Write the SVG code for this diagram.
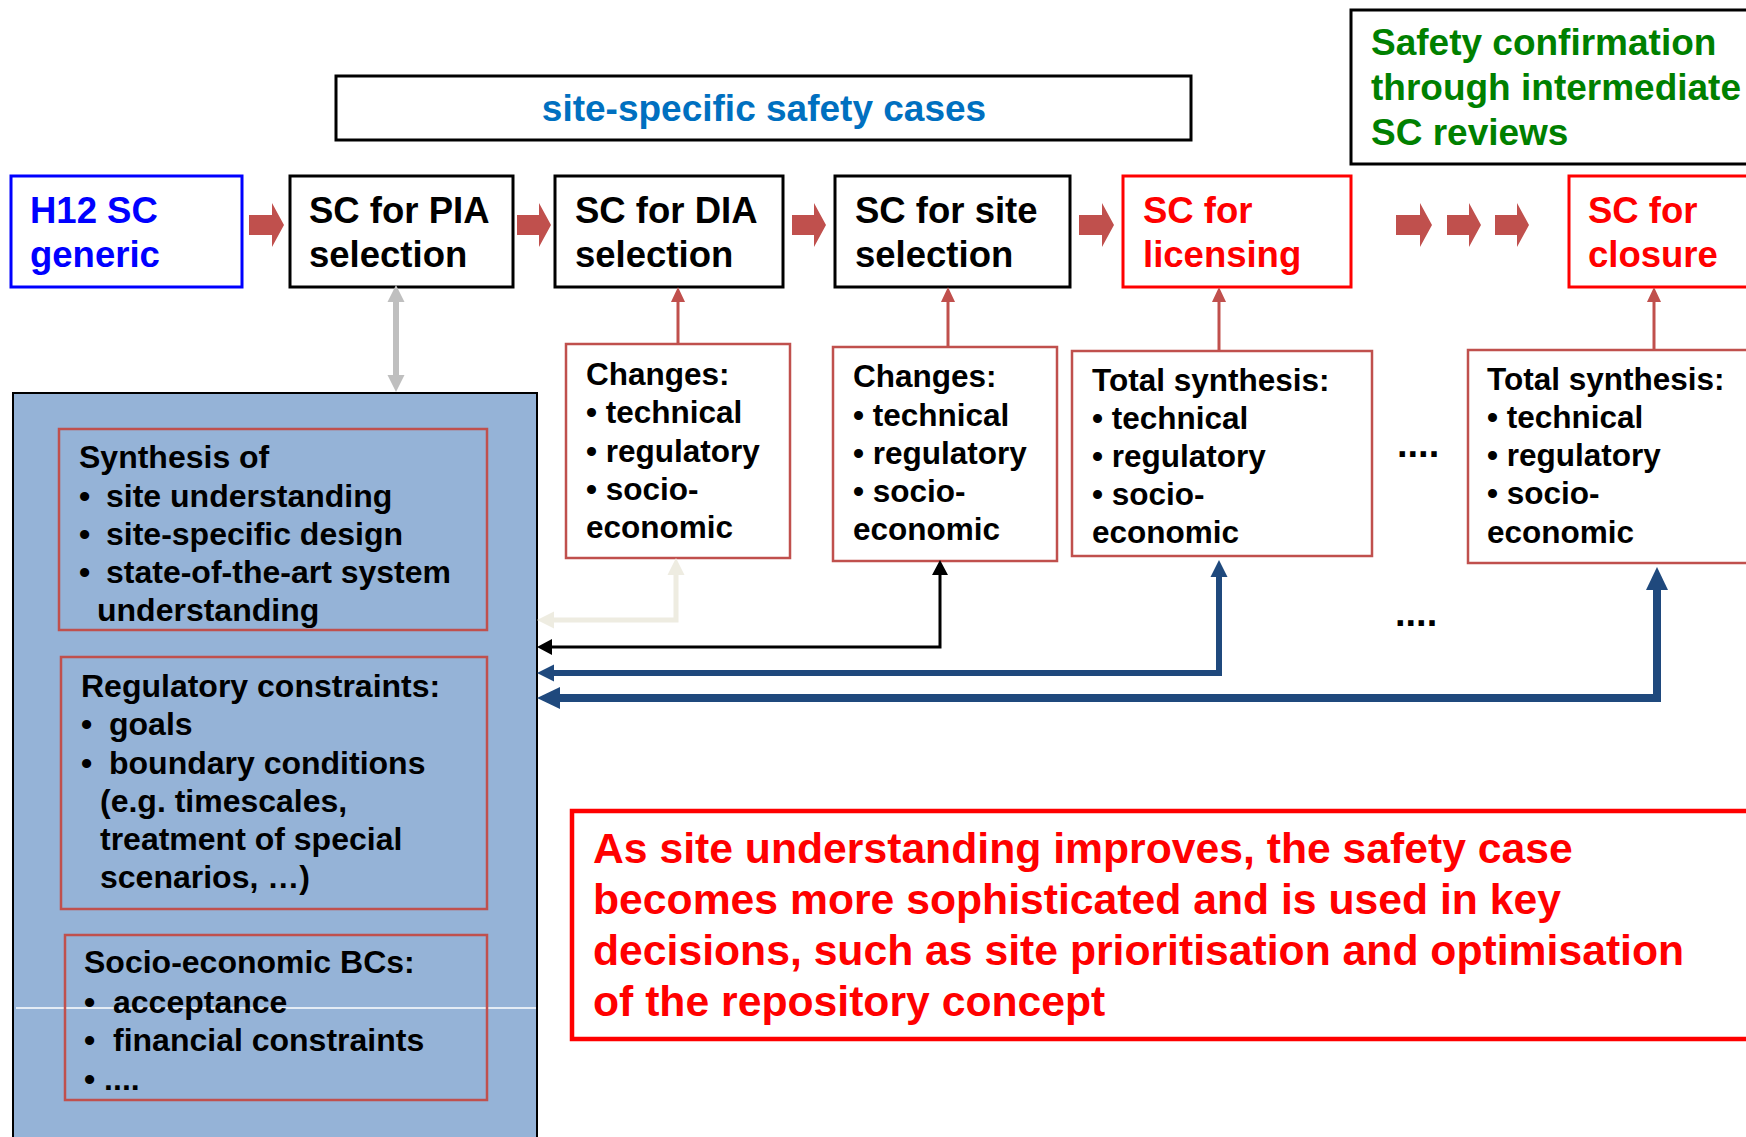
<svg xmlns="http://www.w3.org/2000/svg" width="1746" height="1137" viewBox="0 0 1746 1137">
<style>
text{font-family:"Liberation Sans",Arial,sans-serif;font-weight:bold;}
.t36{font-size:36.5px;}
.t32{font-size:32px;fill:#000;}
.t31{font-size:31.5px;fill:#000;}
.st{font-size:42.7px;fill:#FF0000;}
.bx{fill:#fff;stroke:#000;stroke-width:3;}
.rb{fill:#fff;stroke:#FF0000;stroke-width:3;}
.cb{fill:#fff;stroke:#C0504D;stroke-width:2.5;}
.ib{fill:none;stroke:#C0504D;stroke-width:2.5;}
.blk{fill:#C0504D;}
</style>
<defs>
<marker id="mRed" markerUnits="userSpaceOnUse" orient="auto-start-reverse" refX="0" refY="7" markerWidth="16" markerHeight="14" overflow="visible"><path d="M0,0 L15,7 L0,14 z" fill="#C0504D"/></marker>
<marker id="mGray" markerUnits="userSpaceOnUse" orient="auto-start-reverse" refX="0" refY="8.5" markerWidth="17" markerHeight="17" overflow="visible"><path d="M0,0 L17,8.5 L0,17 z" fill="#BFBFBF"/></marker>
<marker id="mBeige" markerUnits="userSpaceOnUse" orient="auto-start-reverse" refX="0" refY="8.5" markerWidth="17" markerHeight="17" overflow="visible"><path d="M0,0 L17,8.5 L0,17 z" fill="#EEECE1"/></marker>
<marker id="mBlack" markerUnits="userSpaceOnUse" orient="auto-start-reverse" refX="0" refY="8" markerWidth="15" markerHeight="16" overflow="visible"><path d="M0,0 L15,8 L0,16 z" fill="#000"/></marker>
<marker id="mBlue1" markerUnits="userSpaceOnUse" orient="auto-start-reverse" refX="0" refY="8.5" markerWidth="17" markerHeight="17" overflow="visible"><path d="M0,0 L17,8.5 L0,17 z" fill="#1F497D"/></marker>
<marker id="mBlue2" markerUnits="userSpaceOnUse" orient="auto-start-reverse" refX="0" refY="11" markerWidth="23" markerHeight="22" overflow="visible"><path d="M0,0 L23,11 L0,22 z" fill="#1F497D"/></marker>
</defs>
<rect width="1746" height="1137" fill="#fff"/>

<g id="site-specific-label">
<rect class="bx" x="336" y="76" width="855" height="64"/>
<text x="764" y="121" fill="#0070C0" text-anchor="middle" style="font-size:37px">site-specific safety cases</text>
</g>

<g id="safety-confirmation">
<rect class="bx" x="1351" y="10" width="450" height="154"/>
<text x="1371" y="55" fill="#008000" style="font-size:37px">Safety confirmation</text>
<text x="1371" y="100" fill="#008000" style="font-size:37px">through intermediate</text>
<text x="1371" y="145" fill="#008000" style="font-size:37px">SC reviews</text>
</g>

<g id="h12">
<rect x="11" y="176" width="231" height="111" fill="#fff" stroke="#0000FF" stroke-width="3"/>
<text class="t36" x="30" y="223" fill="#0000FF">H12 SC</text>
<text class="t36" x="30" y="267" fill="#0000FF">generic</text>
</g>
<g id="sc-pia">
<rect class="bx" x="290" y="176" width="223" height="111"/>
<text class="t36" x="309" y="223">SC for PIA</text>
<text class="t36" x="309" y="267">selection</text>
</g>
<g id="sc-dia">
<rect class="bx" x="555" y="176" width="228" height="111"/>
<text class="t36" x="575" y="223">SC for DIA</text>
<text class="t36" x="575" y="267">selection</text>
</g>
<g id="sc-site">
<rect class="bx" x="835" y="176" width="235" height="111"/>
<text class="t36" x="855" y="223">SC for site</text>
<text class="t36" x="855" y="267">selection</text>
</g>
<g id="sc-licensing">
<rect class="rb" x="1123" y="176" width="228" height="111"/>
<text class="t36" x="1143" y="223" fill="#FF0000">SC for</text>
<text class="t36" x="1143" y="267" fill="#FF0000">licensing</text>
</g>
<g id="sc-closure">
<rect class="rb" x="1569" y="176" width="300" height="111"/>
<text class="t36" x="1588" y="223" fill="#FF0000">SC for</text>
<text class="t36" x="1588" y="267" fill="#FF0000">closure</text>
</g>

<g id="changes-dia">
<rect class="cb" x="566" y="344" width="224" height="214"/>
<text class="t31" x="586" y="385">Changes:</text>
<text class="t31" x="586" y="423">• technical</text>
<text class="t31" x="586" y="462">• regulatory</text>
<text class="t31" x="586" y="500">• socio-</text>
<text class="t31" x="586" y="538">economic</text>
</g>
<g id="changes-site">
<rect class="cb" x="833" y="347" width="224" height="214"/>
<text class="t31" x="853" y="387">Changes:</text>
<text class="t31" x="853" y="426">• technical</text>
<text class="t31" x="853" y="464">• regulatory</text>
<text class="t31" x="853" y="502">• socio-</text>
<text class="t31" x="853" y="540">economic</text>
</g>
<g id="total-licensing">
<rect class="cb" x="1072" y="351" width="300" height="205"/>
<text class="t31" x="1092" y="391">Total synthesis:</text>
<text class="t31" x="1092" y="429">• technical</text>
<text class="t31" x="1092" y="467">• regulatory</text>
<text class="t31" x="1092" y="505">• socio-</text>
<text class="t31" x="1092" y="543">economic</text>
</g>
<g id="total-closure">
<rect class="cb" x="1468" y="350" width="400" height="213"/>
<text class="t31" x="1487" y="390">Total synthesis:</text>
<text class="t31" x="1487" y="428">• technical</text>
<text class="t31" x="1487" y="466">• regulatory</text>
<text class="t31" x="1487" y="504">• socio-</text>
<text class="t31" x="1487" y="543">economic</text>
</g>

<g id="dots">
<text x="1397" y="457" style="font-size:38px">....</text>
<text x="1395" y="626" style="font-size:38px">....</text>
</g>

<g id="basis">
<rect x="13" y="393" width="524" height="780" fill="#95B3D7" stroke="#000" stroke-width="2"/>
<line x1="16" y1="1008" x2="536" y2="1008" stroke="#fff" stroke-width="1.5"/>
<g id="synthesis">
<rect class="ib" x="59" y="429" width="428" height="201"/>
<text class="t32" x="79" y="468">Synthesis of</text>
<text class="t32" y="507"><tspan x="79">•</tspan><tspan x="106">site understanding</tspan></text>
<text class="t32" y="545"><tspan x="79">•</tspan><tspan x="106">site-specific design</tspan></text>
<text class="t32" y="583"><tspan x="79">•</tspan><tspan x="106">state-of-the-art system</tspan></text>
<text class="t32" x="97" y="621">understanding</text>
</g>
<g id="regulatory">
<rect class="ib" x="61" y="657" width="426" height="252"/>
<text class="t32" x="81" y="697">Regulatory constraints:</text>
<text class="t32" y="735"><tspan x="81">•</tspan><tspan x="109">goals</tspan></text>
<text class="t32" y="774"><tspan x="81">•</tspan><tspan x="109">boundary conditions</tspan></text>
<text class="t32" x="100" y="812">(e.g. timescales,</text>
<text class="t32" x="100" y="850">treatment of special</text>
<text class="t32" x="100" y="888">scenarios, …)</text>
</g>
<g id="socio">
<rect class="ib" x="65" y="935" width="422" height="165"/>
<text class="t32" x="84" y="973">Socio-economic BCs:</text>
<text class="t32" y="1013"><tspan x="84">•</tspan><tspan x="113">acceptance</tspan></text>
<text class="t32" y="1051"><tspan x="84">•</tspan><tspan x="113">financial constraints</tspan></text>
<text class="t32" x="84" y="1090">• ....</text>
</g>
</g>

<g id="statement">
<rect x="572" y="811" width="1300" height="228" fill="#fff" stroke="#FF0000" stroke-width="4.5"/>
<text class="st" x="593" y="863">As site understanding improves, the safety case</text>
<text class="st" x="593" y="914">becomes more sophisticated and is used in key</text>
<text class="st" x="593" y="965">decisions, such as site prioritisation and optimisation</text>
<text class="st" x="593" y="1016">of the repository concept</text>
</g>

<g id="connectors">
<polygon class="blk" points="249,215 272,215 272,203 284,225 272,247 272,235 249,235"/>
<polygon class="blk" points="517,215 539,215 539,203 551,225 539,247 539,235 517,235"/>
<polygon class="blk" points="792,215 814,215 814,203 826,225 814,247 814,235 792,235"/>
<polygon class="blk" points="1079,215 1102,215 1102,203 1114,225 1102,247 1102,235 1079,235"/>
<polygon class="blk" points="1396,215 1420,215 1420,203 1432,225 1420,247 1420,235 1396,235"/>
<polygon class="blk" points="1447,215 1469,215 1469,203 1481,225 1469,247 1469,235 1447,235"/>
<polygon class="blk" points="1495,215 1517,215 1517,203 1529,225 1517,247 1517,235 1495,235"/>
<path d="M396,302 V375" stroke="#BFBFBF" stroke-width="6" fill="none" marker-start="url(#mGray)" marker-end="url(#mGray)"/>
<path d="M678,344 V302" stroke="#C0504D" stroke-width="3" fill="none" marker-end="url(#mRed)"/>
<path d="M948,347 V302" stroke="#C0504D" stroke-width="3" fill="none" marker-end="url(#mRed)"/>
<path d="M1219,351 V302" stroke="#C0504D" stroke-width="3" fill="none" marker-end="url(#mRed)"/>
<path d="M1654,350 V302" stroke="#C0504D" stroke-width="3" fill="none" marker-end="url(#mRed)"/>
<path d="M554,620 H676 V575" stroke="#EEECE1" stroke-width="5" fill="none" marker-start="url(#mBeige)" marker-end="url(#mBeige)"/>
<path d="M552,647 H940 V575" stroke="#000" stroke-width="3" fill="none" marker-start="url(#mBlack)" marker-end="url(#mBlack)"/>
<path d="M554,673 H1219 V577" stroke="#1F497D" stroke-width="6" fill="none" marker-start="url(#mBlue1)" marker-end="url(#mBlue1)"/>
<path d="M560,698 H1657 V590" stroke="#1F497D" stroke-width="8" fill="none" marker-start="url(#mBlue2)" marker-end="url(#mBlue2)"/>
</g>
</svg>
